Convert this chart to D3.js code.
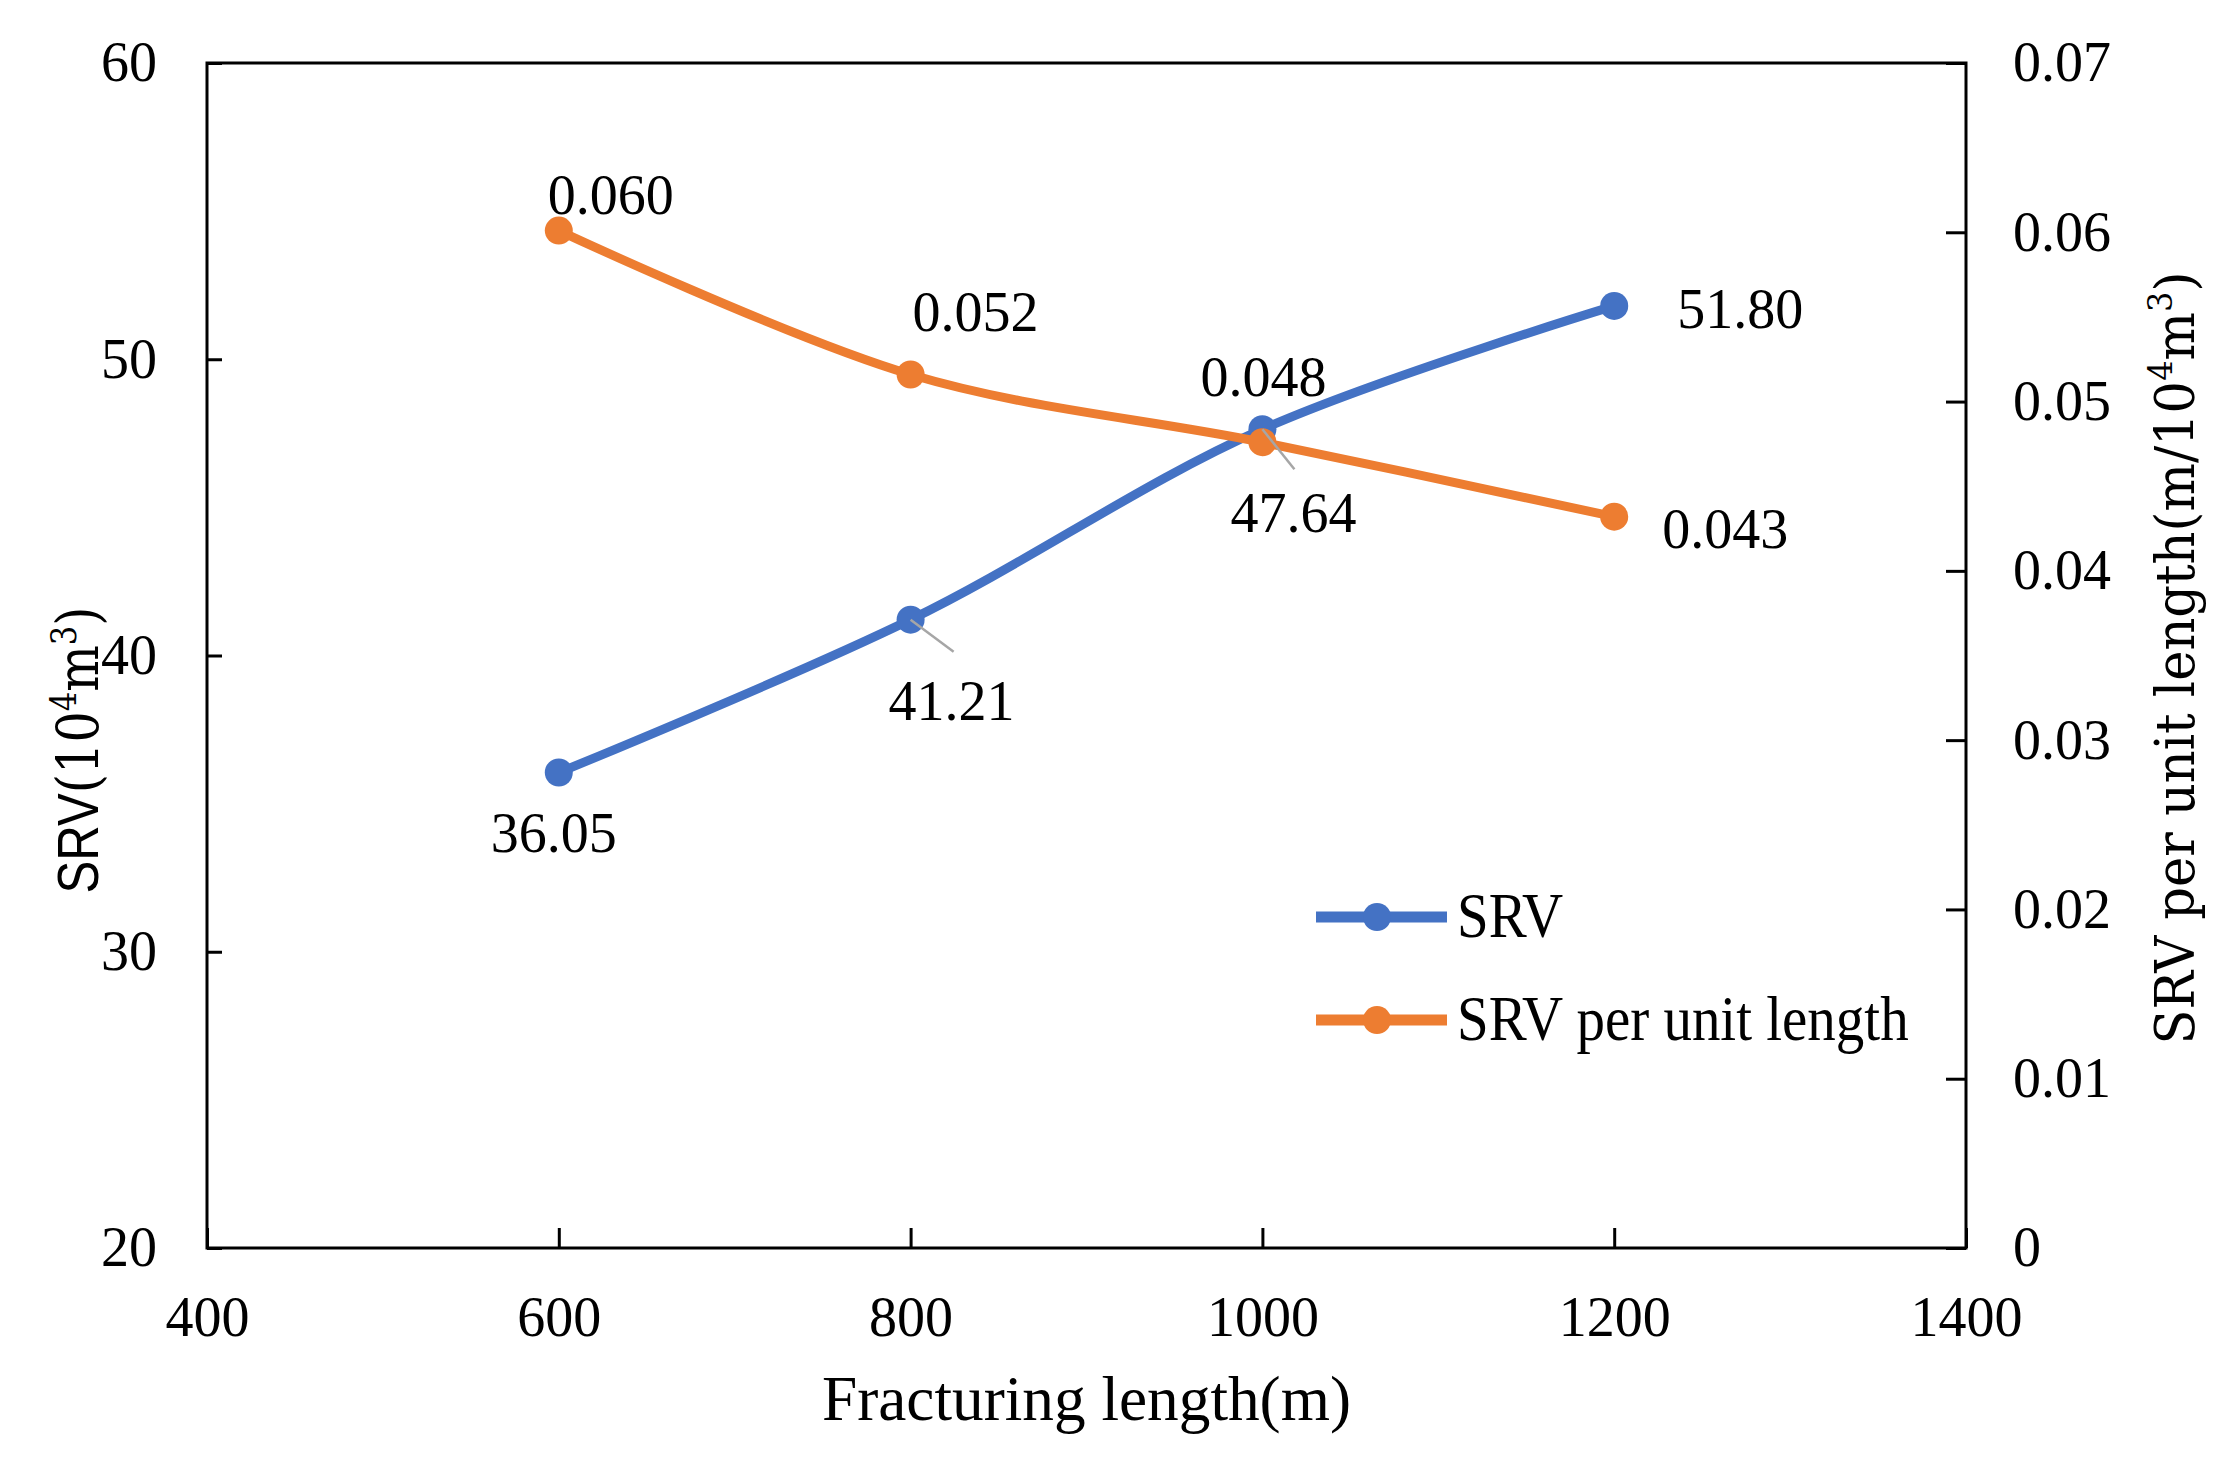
<!DOCTYPE html>
<html>
<head>
<meta charset="utf-8">
<script src="https://cdn.jsdelivr.net/npm/d3@7"></script>
<style>
  body { margin: 0; background: #fff; }
  svg text { fill: #000; }
</style>
</head>
<body>
<div class="chart"></div>
<script>
// data
const lengths = [600, 800, 1000, 1200];
const srv = [36.05, 41.21, 47.64, 51.80];
const srvPerLength = [0.0601, 0.0516, 0.0476, 0.0432];
const xTicks = [400, 600, 800, 1000, 1200, 1400];
const leftTicks = [20, 30, 40, 50, 60];
const rightTicks = [0, 0.01, 0.02, 0.03, 0.04, 0.05, 0.06, 0.07];

// label placement (dx, dy from point; optional leader end)
const srvLabelPos = [[-5, 79], [41, 100], [31, 103], [126, 22]];
const srvLeaders = [null, [43, 32], [32, 40], null];
const unitLabelPos = [[52, -17], [65, -43], [1, -46], [111, 31]];

const W = 2232, H = 1461;
const m = { left: 207, right: 1966, top: 63, bottom: 1248 };
const blue = '#4472C4', orange = '#ED7D31';
const serif = '"Liberation Serif", "Times New Roman", serif';

const svg = d3.select('.chart')
  .append('svg')
    .attr('width', W)
    .attr('height', H);

const x = d3.scaleLinear().domain([400, 1400]).range([m.left, m.right]);
const yL = d3.scaleLinear().domain([20, 60]).range([m.bottom, m.top]);
const yR = d3.scaleLinear().domain([0, 0.07]).range([m.bottom, m.top]);

// axes, ticks pointing inward
const xAxis = svg.append('g')
  .attr('transform', `translate(0,${m.bottom})`)
  .call(d3.axisBottom(x).tickValues(xTicks).tickSizeInner(-20).tickSizeOuter(0).tickPadding(48)
    .tickFormat(d3.format('d')));
const lAxis = svg.append('g')
  .attr('transform', `translate(${m.left},0)`)
  .call(d3.axisLeft(yL).tickValues(leftTicks).tickSizeInner(-15).tickSizeOuter(0).tickPadding(50));
const rAxis = svg.append('g')
  .attr('transform', `translate(${m.right},0)`)
  .call(d3.axisRight(yR).tickValues(rightTicks).tickSizeInner(-20).tickSizeOuter(0).tickPadding(47)
    .tickFormat(d => d === 0 ? '0' : d3.format('.2f')(d)));

[xAxis, lAxis, rAxis].forEach(a => {
  a.selectAll('.domain').remove();
  a.selectAll('.tick line').attr('stroke', '#000').attr('stroke-width', 3);
  a.selectAll('.tick text')
    .style('font-family', serif)
    .style('font-size', '56px')
    .attr('fill', '#000');
});
xAxis.selectAll('.tick text').attr('dy', '0.71em').attr('y', 48);

// frame
svg.append('rect')
  .attr('x', m.left).attr('y', m.top)
  .attr('width', m.right - m.left).attr('height', m.bottom - m.top)
  .attr('fill', 'none').attr('stroke', '#000').attr('stroke-width', 3);

const curve = d3.curveCatmullRom.alpha(0.5);

// SRV series (left axis)
svg.append('path')
  .datum(lengths.map((l, i) => [x(l), yL(srv[i])]))
  .attr('d', d3.line().curve(curve))
  .attr('fill', 'none').attr('stroke', blue).attr('stroke-width', 9);
svg.append('g').selectAll('circle')
  .data(lengths)
  .enter().append('circle')
    .attr('cx', d => x(d))
    .attr('cy', (d, i) => yL(srv[i]))
    .attr('r', 14)
    .attr('fill', blue);

// SRV per unit length (right axis)
svg.append('path')
  .datum(lengths.map((l, i) => [x(l), yR(srvPerLength[i])]))
  .attr('d', d3.line().curve(curve))
  .attr('fill', 'none').attr('stroke', orange).attr('stroke-width', 9);
svg.append('g').selectAll('circle')
  .data(lengths)
  .enter().append('circle')
    .attr('cx', d => x(d))
    .attr('cy', (d, i) => yR(srvPerLength[i]))
    .attr('r', 14)
    .attr('fill', orange);

// leader lines
svg.append('g').selectAll('line')
  .data(lengths.map((l, i) => ({ l, i })).filter(d => srvLeaders[d.i]))
  .enter().append('line')
    .attr('x1', d => x(d.l))
    .attr('y1', d => yL(srv[d.i]))
    .attr('x2', d => x(d.l) + srvLeaders[d.i][0])
    .attr('y2', d => yL(srv[d.i]) + srvLeaders[d.i][1])
    .attr('stroke', '#A6A6A6').attr('stroke-width', 2.5);

// data labels
svg.append('g').selectAll('text')
  .data(lengths)
  .enter().append('text')
    .attr('x', (d, i) => x(d) + srvLabelPos[i][0])
    .attr('y', (d, i) => yL(srv[i]) + srvLabelPos[i][1])
    .attr('text-anchor', 'middle')
    .style('font-family', serif).style('font-size', '56px')
    .text((d, i) => srv[i].toFixed(2));
svg.append('g').selectAll('text')
  .data(lengths)
  .enter().append('text')
    .attr('x', (d, i) => x(d) + unitLabelPos[i][0])
    .attr('y', (d, i) => yR(srvPerLength[i]) + unitLabelPos[i][1])
    .attr('text-anchor', 'middle')
    .style('font-family', serif).style('font-size', '56px')
    .text((d, i) => srvPerLength[i].toFixed(3));

// legend
const legend = [
  { name: 'SRV', color: blue, y: 917 },
  { name: 'SRV per unit length', color: orange, y: 1020 }
];
const lg = svg.append('g').selectAll('g')
  .data(legend)
  .enter().append('g')
    .attr('transform', d => `translate(1316,${d.y})`);
lg.append('line')
  .attr('x1', 0).attr('x2', 131)
  .attr('stroke', d => d.color).attr('stroke-width', 11);
lg.append('circle')
  .attr('cx', 61).attr('r', 14)
  .attr('fill', d => d.color);
lg.append('text')
  .attr('transform', 'translate(141,20) scale(0.89,1)')
  .style('font-family', serif).style('font-size', '64px')
  .text(d => d.name);

// axis titles
svg.append('text')
  .attr('x', (m.left + m.right) / 2)
  .attr('y', 1420)
  .attr('text-anchor', 'middle')
  .attr('textLength', 529)
  .attr('lengthAdjust', 'spacingAndGlyphs')
  .style('font-family', serif).style('font-size', '64px')
  .text('Fracturing length(m)');

const lt = svg.append('text')
  .attr('transform', 'translate(98,750) rotate(-90)')
  .attr('text-anchor', 'middle')
  .attr('textLength', 287)
  .attr('lengthAdjust', 'spacingAndGlyphs')
  .style('font-size', '58px');
lt.append('tspan').style('font-family', '"Liberation Sans", Arial, sans-serif').text('SRV');
lt.append('tspan').style('font-family', '"DejaVu Serif", serif').text('(10');
lt.append('tspan').style('font-family', '"DejaVu Serif", serif').style('font-size', '36px').attr('dy', -22).text('4');
lt.append('tspan').style('font-family', '"DejaVu Serif", serif').attr('dy', 22).text('m');
lt.append('tspan').style('font-family', '"DejaVu Serif", serif').style('font-size', '36px').attr('dy', -22).text('3');
lt.append('tspan').style('font-family', '"DejaVu Serif", serif').attr('dy', 22).text(')');

const rt = svg.append('text')
  .attr('transform', 'translate(2194,658) rotate(-90)')
  .attr('text-anchor', 'middle')
  .attr('textLength', 773)
  .attr('lengthAdjust', 'spacingAndGlyphs')
  .style('font-family', '"DejaVu Serif", serif')
  .style('font-size', '54px');
rt.append('tspan').text('SRV per unit length(m/10');
rt.append('tspan').style('font-size', '34px').attr('dy', -22).text('4');
rt.append('tspan').attr('dy', 22).text('m');
rt.append('tspan').style('font-size', '34px').attr('dy', -22).text('3');
rt.append('tspan').attr('dy', 22).text(')');
</script>
</body>
</html>
